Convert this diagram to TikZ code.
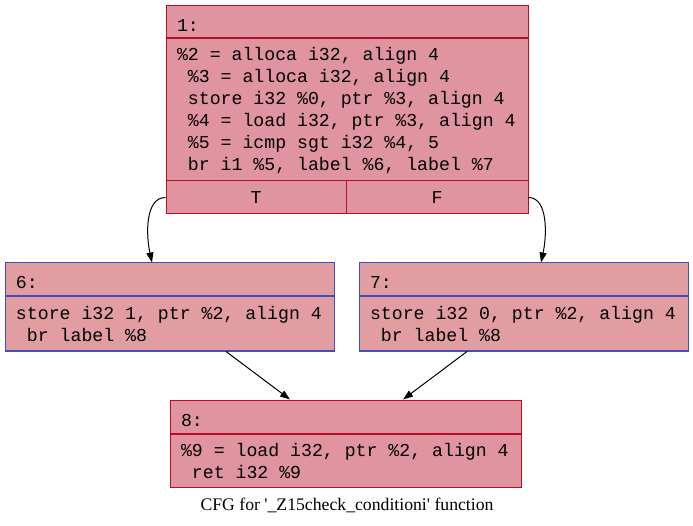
\documentclass[tikz,border=0pt]{standalone}
\usepackage{fontspec}
\setmainfont{Liberation Serif}
\setmonofont{Liberation Mono}
\usetikzlibrary{arrows.meta}
\definecolor{cfgred}{HTML}{B70D28}
\definecolor{cfgblue}{HTML}{3D50C3}
\definecolor{redfill}{HTML}{DF94A0}
\definecolor{bluefill}{HTML}{E29DA3}
\tikzset{
  blk/.style={draw, line width=1pt, inner ysep=0pt, inner xsep=11pt, align=left,
    font=\ttfamily\fontsize{18.2}{22}\selectfont,
    execute at begin node={\spaceskip=0.6em\xspaceskip=0.6em\relax}},
  redblk/.style={blk, draw=cfgred, fill=redfill},
  blueblk/.style={blk, draw=cfgblue, fill=bluefill},
  hdr/.style={text height=19pt, text depth=0pt},
  port/.style={redblk, align=center, inner xsep=0pt},
  edge/.style={line width=1pt, -{Triangle[length=10pt,width=7pt]}}
}

\begin{document}
\begin{tikzpicture}[x=1pt, y=-1pt]
        \useasboundingbox (0,0) rectangle (693,526);
        % Block 1
        \node (b1head) at (347,22) [redblk, hdr, text width=340pt, minimum height=32pt] {1:};
        \node (b1body) at (b1head.south) [anchor = north, redblk, text width=340pt, minimum height=143pt]
          {\%2 = alloca i32, align 4\\
           ~\%3 = alloca i32, align 4\\
           ~store i32 \%0, ptr \%3, align 4\\
           ~\%4 = load i32, ptr \%3, align 4\\
           ~\%5 = icmp sgt i32 \%4, 5\\
           ~br i1 \%5, label \%6, label \%7};
        \node (b1T) at (256,197.5) [port, text width=180pt, minimum height=33pt] {T};
        \node (b1F) at (437,197.5) [port, text width=182pt, minimum height=33pt] {F};
        % Block 6
        \node (b6head) at (169.5,279.5) [blueblk, hdr, text width=307pt, minimum height=33pt] {6:};
        \node (b6body) at (b6head.south) [anchor = north, blueblk, text width=307pt, minimum height=54pt]
          {store i32 1, ptr \%2, align 4\\
           ~br label \%8};
        % Block 7
        \node (b7head) at (523.5,279.5) [blueblk, hdr, text width=307pt, minimum height=33pt] {7:};
        \node (b7body) at (b7head.south) [anchor = north, blueblk, text width=307pt, minimum height=54pt]
          {store i32 0, ptr \%2, align 4\\
           ~br label \%8};
        % Block 8
        \node (b8head) at (345.5,416.5) [redblk, hdr, text width=329pt, minimum height=33pt] {8:};
        \node (b8body) at (b8head.south) [anchor = north, redblk, text width=329pt, minimum height=53pt]
          {\%9 = load i32, ptr \%2, align 4\\
           ~ret i32 \%9};
        % Edges
        \draw[edge] (b1T.west) .. controls (145,197.5) and (146,235) .. ([xshift=-17.5pt]b6head.north);
        \draw[edge] (b1F.east) .. controls (548,197.5) and (547,235) .. ([xshift=17.5pt]b7head.north);
        \draw[edge] ([xshift=56.5pt]b6body.south) -- ([xshift=-55.5pt]b8head.north);
        \draw[edge] ([xshift=-56.5pt]b7body.south) -- ([xshift=57.5pt]b8head.north);
        % Caption
        \node (title) at (347,505) [font=\fontsize{17.7}{22}\selectfont] {CFG for \textquotesingle\_Z15check\_conditioni\textquotesingle{} function};
    \end{tikzpicture}
\end{document}
